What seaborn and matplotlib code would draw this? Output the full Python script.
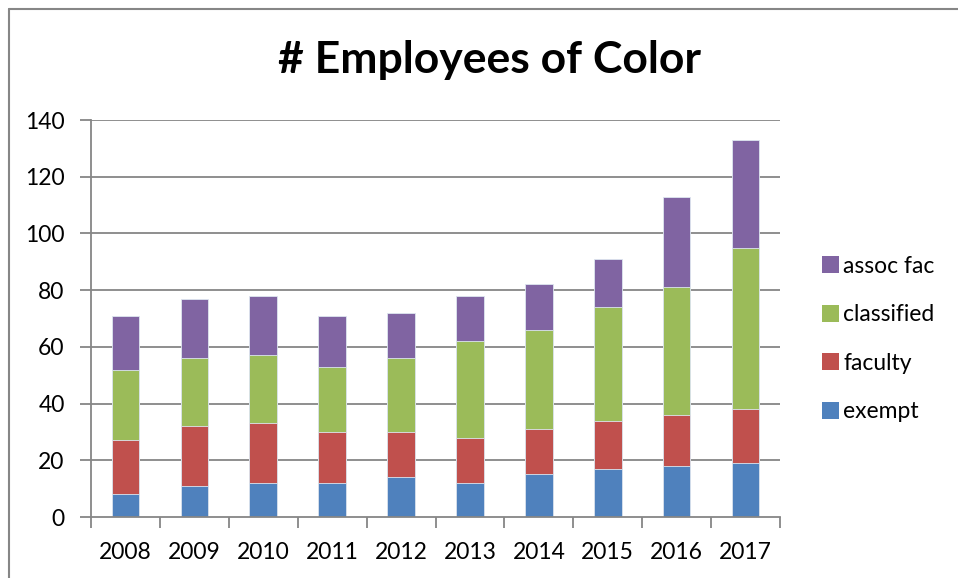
import matplotlib
matplotlib.use("Agg")
import matplotlib.pyplot as plt
from matplotlib.patches import Patch
from matplotlib.lines import Line2D
import seaborn as sns
import numpy as np
import pandas as pd

years = ["2008", "2009", "2010", "2011", "2012", "2013", "2014", "2015", "2016", "2017"]
exempt = [8, 11, 12, 12, 14, 12, 15, 17, 18, 19]
faculty = [19, 21, 21, 18, 16, 16, 16, 17, 18, 19]
classified = [25, 24, 24, 23, 26, 34, 35, 40, 45, 57]
assoc_fac = [19, 21, 21, 18, 16, 16, 16, 17, 32, 38]
series_names = ["exempt", "faculty", "classified", "assoc fac"]
y_ticks = [0, 20, 40, 60, 80, 100, 120, 140]

colors = {"exempt": "#4F81BD", "faculty": "#C0504D",
          "classified": "#9BBB59", "assoc fac": "#8064A2"}

sns.set_theme(style="white")
plt.rcParams["font.family"] = ["Lato", "DejaVu Sans"]
plt.rcParams["text.color"] = "black"
plt.rcParams["xtick.labelcolor"] = "black"
plt.rcParams["ytick.labelcolor"] = "black"

fig = plt.figure(figsize=(9.58, 5.78), dpi=100)
ax = fig.add_axes([91 / 958, 61 / 578, 689 / 958, 397 / 578])

df = pd.DataFrame({"year": years, "exempt": exempt, "faculty": faculty,
                   "classified": classified, "assoc fac": assoc_fac})
cum = df[series_names].cumsum(axis=1)

grid_c = "#868686"
for y in y_ticks[1:]:
    ax.axhline(y, color=grid_c, lw=1.3, zorder=0)

for name in reversed(series_names):
    sns.barplot(x=df["year"], y=cum[name], color=colors[name], width=0.4,
                saturation=1, ax=ax, zorder=2, edgecolor="#dde6f0", linewidth=0.6)

ax.set_ylim(0, 140)
ax.set_xlim(-0.5, 9.5)
ax.set_yticks(y_ticks)
ax.set_yticklabels([str(v) for v in y_ticks], fontsize=16.5, color="black")
ax.set_xticks(np.arange(-0.5, 10, 1))
ax.set_xticklabels([""] * 11)
ax.set_xticks(np.arange(10), minor=True)
ax.set_xticklabels(years, minor=True, fontsize=16.5, color="black")
ax.tick_params(axis="x", which="major", length=8, width=1.3, color=grid_c, direction="out", bottom=True)
ax.tick_params(axis="x", which="minor", length=0, pad=18, bottom=True)
ax.tick_params(axis="y", length=8, width=1.3, color=grid_c, direction="out", pad=11, left=True)
ax.set_xlabel("")
ax.set_ylabel("")
for s in ["top", "right"]:
    ax.spines[s].set_visible(False)
for s in ["left", "bottom"]:
    ax.spines[s].set_color(grid_c)
    ax.spines[s].set_linewidth(1.3)

fig.text(490 / 958, 1 - 60 / 578, "# Employees of Color", ha="center", va="center",
         fontsize=32, fontweight="bold", color="black")

handles = [Patch(facecolor=colors[n], edgecolor="none") for n in reversed(series_names)]
labels = list(reversed(series_names))
leg = fig.legend(handles, labels, loc="center left", bbox_to_anchor=(801 / 958, 1 - 339 / 578),
                 frameon=False, fontsize=16.5, handlelength=0.75, handleheight=0.75,
                 handletextpad=0.2, labelspacing=1.2)
for t in leg.get_texts():
    t.set_color("black")

fig.add_artist(Line2D([8.5 / 958, 8.5 / 958], [0, 1 - 8.5 / 578], color=grid_c, lw=1.5))
fig.add_artist(Line2D([8.5 / 958, 1], [1 - 8.5 / 578, 1 - 8.5 / 578], color=grid_c, lw=1.5))

fig.savefig("out.png", dpi=100)
